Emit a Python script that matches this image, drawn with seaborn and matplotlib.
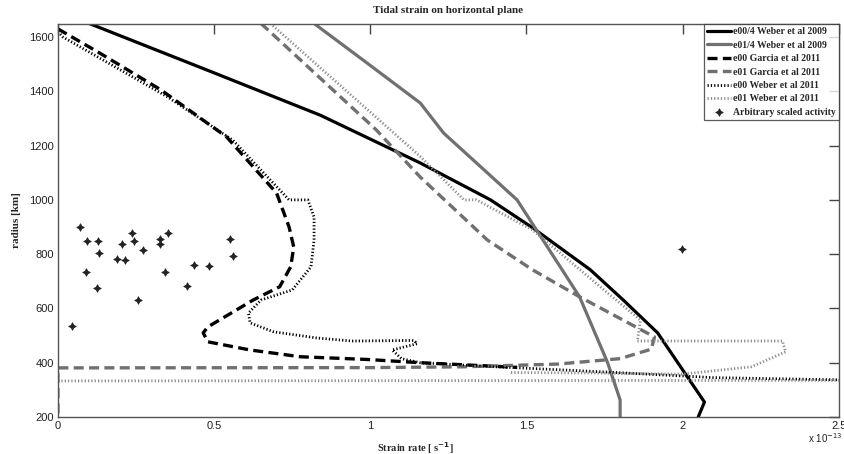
import matplotlib
matplotlib.use("Agg")
import pandas as pd
import matplotlib.pyplot as plt
import seaborn as sns

# strain rate in units of 1e-13 s^-1, radius in km
weber09_e00_x = [0.10, 0.50, 0.84, 1.16, 1.385, 1.52, 1.705, 1.81, 1.92, 2.07, 2.05]
weber09_e00_y = [1650, 1468, 1312, 1136, 1000, 897, 742, 631, 510, 255, 200]

weber09_e01_x = [0.82, 0.99, 1.16, 1.235, 1.47, 1.67, 1.76, 1.80, 1.80]
weber09_e01_y = [1650, 1504, 1357, 1246, 1000, 643, 400, 263, 200]

garcia_e00_x = [0.0, 0.135, 0.33, 0.54, 0.70, 0.74, 0.755, 0.745, 0.71, 0.625, 0.48, 0.465,
                0.48, 0.615, 0.776, 0.99, 1.16, 1.47]
garcia_e00_y = [1630, 1540, 1405, 1232, 1025, 900, 826, 753, 680, 631, 532, 510,
                477, 447, 422, 412, 400, 383]

garcia_e01_x = [0.65, 1.02, 1.04, 1.16, 1.375, 1.52, 1.67, 1.91, 1.90, 1.80, 1.60, 1.30,
                1.00, 0.00, 0.00]
garcia_e01_y = [1650, 1257, 1232, 1084, 852, 742, 643, 495, 450, 415, 395, 385,
                382, 381, 200]

weber11_e00_x = [0.0, 0.016, 0.35, 0.56, 0.74, 0.80, 0.82, 0.82, 0.81, 0.75, 0.65, 0.61,
                 0.615, 0.69, 0.83, 0.94, 1.14, 1.15, 1.07, 1.10, 1.16, 1.40, 1.77, 2.10, 2.50]
weber11_e00_y = [1620, 1600, 1380, 1220, 1000, 1000, 937, 852, 753, 668, 631, 583,
                 547, 514, 491, 480, 482, 470, 447, 415, 400, 385, 365, 345, 337]

weber11_e01_x = [0.68, 1.16, 1.30, 1.34, 1.52, 1.76, 1.865, 1.855, 2.32, 2.33, 2.22, 2.00,
                 1.70, 1.45]
weber11_e01_y = [1650, 1160, 1000, 1000, 889, 657, 557, 480, 480, 440, 385, 358,
                 362, 364]
# flat tail of the e01 Weber 2011 curve
weber11_tail_x = [0.0, 2.5]
weber11_tail_y = [333, 335]

activity_x = [0.070, 0.093, 0.128, 0.130, 0.089, 0.124, 0.190, 0.216, 0.206, 0.236, 0.245,
              0.272, 0.326, 0.326, 0.353, 0.343, 0.255, 0.414, 0.436, 0.482, 0.550, 0.559,
              0.044, 1.997]
activity_y = [901, 849, 850, 803, 736, 677, 783, 780, 836, 877, 850,
              817, 856, 836, 877, 733, 632, 682, 761, 757, 855, 795,
              537, 819]

x_ticks = [0, 0.5, 1, 1.5, 2, 2.5]
x_tick_labels = ["0", "0.5", "1", "1.5", "2", "2.5"]
y_ticks = [200, 400, 600, 800, 1000, 1200, 1400, 1600]

BLACK = "#000000"
GREY = "#707070"
LIGHT_GREY = "#8c8c8c"
SERIF = "Liberation Serif"
SANS = "Liberation Sans"


def draw_curve(ax, xs, ys, label, **kws):
    df = pd.DataFrame({"x": xs, "y": ys})
    sns.lineplot(data=df, x="x", y="y", sort=False, estimator=None, ax=ax,
                 label=label, **kws)


sns.set_style("white")
plt.rcParams["font.family"] = [SANS, "DejaVu Sans"]

fig = plt.figure(figsize=(8.45, 4.54), dpi=100)
ax = fig.add_axes([0.0686, 0.0815, 0.924, 0.8656])

draw_curve(ax, weber09_e00_x, weber09_e00_y, "e00/4 Weber et al 2009", color=BLACK, lw=2.3)
draw_curve(ax, weber09_e01_x, weber09_e01_y, "e01/4 Weber et al 2009", color=GREY, lw=2.3)
draw_curve(ax, garcia_e00_x, garcia_e00_y, "e00 Garcia et al 2011", color=BLACK, lw=2.4,
           dashes=(3, 1.6))
draw_curve(ax, garcia_e01_x, garcia_e01_y, "e01 Garcia et al 2011", color=GREY, lw=2.4,
           dashes=(3, 1.6))
draw_curve(ax, weber11_e00_x, weber11_e00_y, "e00 Weber et al 2011", color=BLACK, lw=2.0,
           dashes=(0.45, 0.75))
draw_curve(ax, weber11_e01_x, weber11_e01_y, "e01 Weber et al 2011", color=LIGHT_GREY, lw=2.0,
           dashes=(0.45, 0.75))
draw_curve(ax, weber11_tail_x, weber11_tail_y, None, color=LIGHT_GREY, lw=2.0,
           dashes=(0.45, 0.75))

sns.scatterplot(x=activity_x, y=activity_y, ax=ax, marker=(4, 1, 0), s=30,
                color="#222222", linewidth=0.5, edgecolor="#222222",
                label="Arbitrary scaled activity")

ax.set_xlim(0, 2.5)
ax.set_ylim(200, 1648)
ax.set_xticks(x_ticks)
ax.set_xticklabels(x_tick_labels)
ax.set_yticks(y_ticks)
ax.tick_params(direction="in", length=7, width=1, colors="#444444", labelcolor="#222222",
               labelsize=8, top=True, right=True, pad=3)
for s in ax.spines.values():
    s.set_color("#555555")
    s.set_linewidth(1.0)

ax.set_title("Tidal strain on horizontal plane", family=SERIF, weight="bold",
             fontsize=8, pad=8)
ax.set_xlabel("Strain rate [ s$^{\\mathbf{-1}}$]", family=SERIF, weight="bold",
              fontsize=7.5)
ax.xaxis.set_label_coords(0.458, -0.058)
ax.set_ylabel("radius [km]", family=SERIF, weight="bold", fontsize=8, labelpad=6)
ax.text(0.960, -0.035, "x 10$^{-13}$", transform=ax.transAxes, fontsize=7,
        ha="left", va="top", color="#222222")

leg = ax.legend(loc="upper right", borderaxespad=0, frameon=True, fancybox=False,
                prop={"family": SERIF, "weight": "bold", "size": 7},
                handlelength=2.4, handletextpad=0.2, labelspacing=0.45,
                borderpad=0.35)
leg.get_frame().set_edgecolor("#333333")
leg.get_frame().set_linewidth(0.9)

fig.savefig("out.png", dpi=100)
